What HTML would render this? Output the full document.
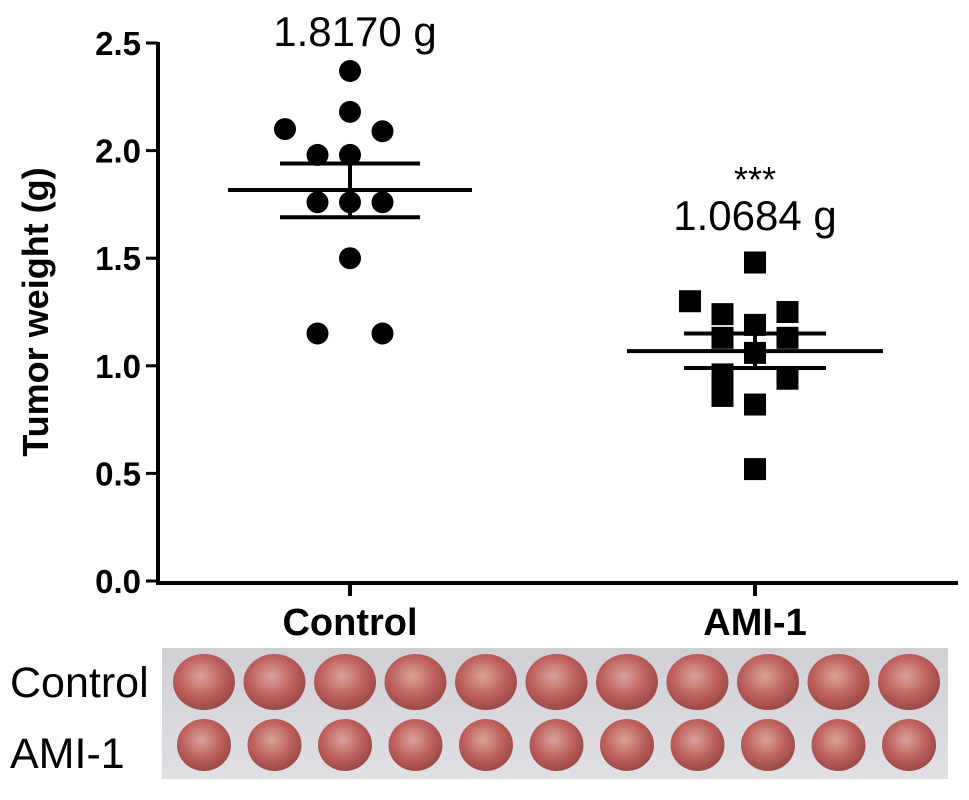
<!DOCTYPE html>
<html><head><meta charset="utf-8"><style>
body{margin:0;background:#fff;width:969px;height:795px;overflow:hidden;font-family:"Liberation Sans",sans-serif}
</style></head><body>
<svg width="969" height="795" viewBox="0 0 969 795">
<defs>
<radialGradient id="tg" cx="45%" cy="40%" r="60%"><stop offset="0" stop-color="#dba39a"/><stop offset="0.6" stop-color="#be605c"/><stop offset="1" stop-color="#9a4a48"/></radialGradient>
<linearGradient id="bg" x1="0" y1="0" x2="0" y2="1"><stop offset="0" stop-color="#cfcfd4"/><stop offset="1" stop-color="#e0e0e4"/></linearGradient>
</defs>
<g id="chart"></g>
<text x="48" y="312" transform="rotate(-90 48 312)" text-anchor="middle" font-size="36" font-weight="bold">Tumor weight (g)</text>
<text x="355" y="46" text-anchor="middle" font-size="42">1.8170 g</text>
<text x="755" y="192" text-anchor="middle" font-size="36">***</text>
<text x="755" y="230" text-anchor="middle" font-size="42">1.0684 g</text>
<rect x="162" y="648" width="786" height="131" fill="url(#bg)"/>
<g id="tumors"></g>
<text x="10" y="697" font-size="43">Control</text>
<text x="10" y="768" font-size="43">AMI-1</text>
</svg>
<script>
const categories=["Control","AMI-1"];
const yTicks=[0.0,0.5,1.0,1.5,2.0,2.5];
const controlValues=[2.37,2.18,2.10,2.09,1.98,1.98,1.76,1.76,1.76,1.50,1.15,1.15];
const controlOffsets=[0,0,-2,1,-1,0,-1,0,1,0,-1,1];
const amiValues=[1.48,1.30,1.24,1.25,1.19,1.13,1.13,1.06,0.96,0.94,0.86,0.82,0.52];
const amiOffsets=[0,-2,-1,1,0,-1,1,0,-1,1,-1,0,0];
const means=[1.817,1.0684];
const semLow=[1.69,0.99];
const semHigh=[1.94,1.15];
const NS="http://www.w3.org/2000/svg";
const y=v=>581-v*215.2;
const xc=[350,755];
const g=document.getElementById('chart');
function mk(t,a,p){const e=document.createElementNS(NS,t);for(const k in a)e.setAttribute(k,a[k]);(p||g).appendChild(e);return e;}
let ax=mk('line',{x1:158,y1:y(2.5)-1,x2:158,y2:584,stroke:'#000','stroke-width':4});


let xa=mk('line',{x1:156,y1:583,x2:958,y2:583,stroke:'#000','stroke-width':4});


yTicks.forEach(t=>{
 let l=mk('line',{x1:146,x2:158,y1:y(t),y2:y(t),stroke:'#000','stroke-width':3});
 
 
 let tx=mk('text',{x:141,y:y(t)+12,'text-anchor':'end','font-size':33,'font-weight':'bold'});
 tx.textContent=t.toFixed(1);
 
 
});
categories.forEach((c,i)=>{
 let l=mk('line',{x1:xc[i],x2:xc[i],y1:582,y2:596,stroke:'#000','stroke-width':4});
 
 
 let tx=mk('text',{x:xc[i],y:635,'text-anchor':'middle','font-size':38,'font-weight':'bold'});
 tx.textContent=c;
 
 
});
const step=32.5;
controlValues.forEach((v,i)=>{
 let c=mk('circle',{cx:xc[0]+controlOffsets[i]*step,cy:y(v),r:11,fill:'#000'});
 
 
});
amiValues.forEach((v,i)=>{
 let r=mk('rect',{x:xc[1]+amiOffsets[i]*step-11,y:y(v)-11,width:22,height:22,fill:'#000'});
 
 
});
const mw=[122,128], sw=[70,71];
means.forEach((m,i)=>{
 let l=mk('line',{x1:xc[i]-mw[i],x2:xc[i]+mw[i],y1:y(m),y2:y(m),stroke:'#000','stroke-width':4});
 
 
 let v=mk('line',{x1:xc[i],x2:xc[i],y1:y(semLow[i]),y2:y(semHigh[i]),stroke:'#000','stroke-width':4});
 
 
 [semLow[i],semHigh[i]].forEach(s=>{
  let h=mk('line',{x1:xc[i]-sw[i],x2:xc[i]+sw[i],y1:y(s),y2:y(s),stroke:'#000','stroke-width':4});
  
  
 });
});
const tg=document.getElementById('tumors');
for(let r=0;r<2;r++)for(let k=0;k<11;k++){
 const cx=204+k*70.5, cy=r?745:682;
 let e=mk('ellipse',{cx:cx,cy:cy,rx:r?27:31,ry:r?26:28,fill:'url(#tg)'},tg);
 
 
}
</script>
</body></html>
